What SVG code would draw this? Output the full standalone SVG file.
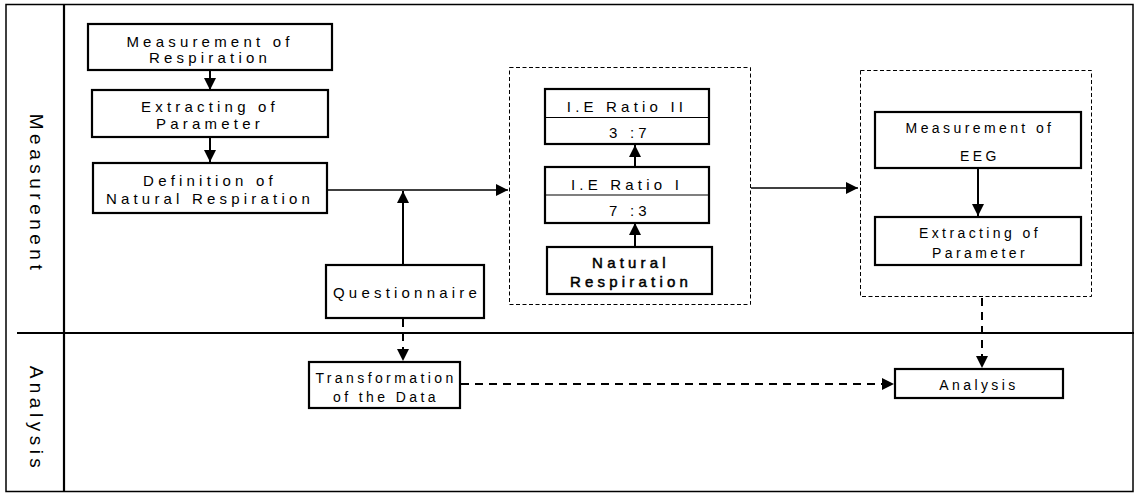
<svg xmlns="http://www.w3.org/2000/svg" width="1140" height="493" viewBox="0 0 1140 493">
<defs>
<marker id="ah" markerUnits="userSpaceOnUse" markerWidth="14" markerHeight="12" refX="12" refY="6" orient="auto">
<path d="M0,0 L12,6 L0,12 Z" fill="#000"/>
</marker>
<style>
.frame{fill:none;stroke:#000;stroke-width:1.5}
.div{fill:none;stroke:#000;stroke-width:2.2}
.box{fill:#fff;stroke:#000;stroke-width:2.2}
.grp{fill:none;stroke:#000;stroke-width:1;stroke-dasharray:4 2.5}
.c{fill:none;stroke:#000;stroke-width:2;marker-end:url(#ah)}
.cl{fill:none;stroke:#000;stroke-width:1.3;marker-end:url(#ah)}
.cd{fill:none;stroke:#000;stroke-width:2;stroke-dasharray:8 6;marker-end:url(#ah)}
text{font-family:"Liberation Sans",Arial,sans-serif;font-size:15px;fill:#000;text-anchor:middle}
.t{letter-spacing:4.2px}
.s{font-size:14px;letter-spacing:3.4px}
.lane{font-size:19px;letter-spacing:4.5px}
.b{stroke:#000;stroke-width:0.5}
</style>
</defs>
<rect width="1140" height="493" fill="#fff"/>
<g id="frame">
<rect class="frame" x="6" y="4.5" width="1127" height="487"/>
<line class="div" x1="64" y1="4" x2="64" y2="492"/>
<line class="div" x1="17" y1="333" x2="1134" y2="333"/>
<text class="lane" transform="translate(30,194) rotate(90)">Measurenent</text>
<text class="lane" transform="translate(30,419) rotate(90)">Analysis</text>
</g>
<g id="connectors">
<line class="c" x1="210" y1="71" x2="210" y2="90"/>
<line class="c" x1="210" y1="137" x2="210" y2="162"/>
<line class="cl" x1="327" y1="190" x2="508" y2="190"/>
<line class="c" x1="403" y1="265" x2="403" y2="191"/>
<line class="c" x1="635" y1="167" x2="635" y2="145"/>
<line class="c" x1="635" y1="246" x2="635" y2="223"/>
<line class="cl" x1="751" y1="188" x2="858" y2="188"/>
<line class="c" x1="978" y1="168" x2="978" y2="216"/>
<line class="cd" x1="403" y1="319" x2="403" y2="361"/>
<line class="cd" x1="461" y1="384" x2="894" y2="384"/>
<line class="cd" x1="982" y1="298" x2="982" y2="368"/>
</g>
<g id="grp-ratio"><rect class="grp" x="509.5" y="67.5" width="241" height="237"/></g>
<g id="grp-eeg"><rect class="grp" x="860.5" y="70.5" width="231" height="226"/></g>
<g id="n-meas-resp">
<rect class="box" x="88" y="24" width="244" height="46"/>
<text class="t" x="210" y="46.5">Measurement of</text>
<text class="t" x="210" y="63">Respiration</text>
</g>
<g id="n-extract1">
<rect class="box" x="92" y="90" width="236" height="47"/>
<text class="t" x="210" y="112">Extracting of</text>
<text class="t" x="210" y="129">Parameter</text>
</g>
<g id="n-definition">
<rect class="box" x="93" y="163" width="234" height="50"/>
<text class="t" x="210" y="186">Definition of</text>
<text class="t" x="210" y="204">Natural Respiration</text>
</g>
<g id="n-questionnaire">
<rect class="box" x="326" y="265" width="158" height="53"/>
<text class="t" x="407" y="298">Questionnaire</text>
</g>
<g id="n-ratio2">
<rect class="box" x="545" y="89" width="164" height="55"/>
<line stroke="#000" stroke-width="1.2" x1="545" y1="117.5" x2="709" y2="117.5"/>
<text class="t" x="627" y="112">I.E Ratio  II</text>
<text class="t" x="630" y="138">3 :7</text>
</g>
<g id="n-ratio1">
<rect class="box" x="545" y="167" width="164" height="56"/>
<line stroke="#000" stroke-width="1.2" x1="545" y1="195" x2="709" y2="195"/>
<text class="t" x="627" y="190">I.E Ratio  I</text>
<text class="t" x="630" y="216">7 :3</text>
</g>
<g id="n-natural">
<rect class="box" x="547" y="247" width="165" height="47"/>
<text class="t b" x="631" y="268">Natural</text>
<text class="t b" x="631" y="287">Respiration</text>
</g>
<g id="n-meas-eeg">
<rect class="box" x="875" y="112" width="206" height="56"/>
<text class="s" x="980" y="133">Measurement of</text>
<text class="s" x="980" y="161">EEG</text>
</g>
<g id="n-extract2">
<rect class="box" x="875" y="217" width="206" height="48"/>
<text class="s" x="980" y="238">Extracting of</text>
<text class="s" x="980" y="258">Parameter</text>
</g>
<g id="n-transform">
<rect class="box" x="309" y="362" width="151" height="46"/>
<text class="s" x="386" y="383">Transformation</text>
<text class="s" x="386" y="402">of the Data</text>
</g>
<g id="n-analysis">
<rect class="box" x="895" y="369" width="168" height="29"/>
<text class="s" x="979" y="390">Analysis</text>
</g>
</svg>
